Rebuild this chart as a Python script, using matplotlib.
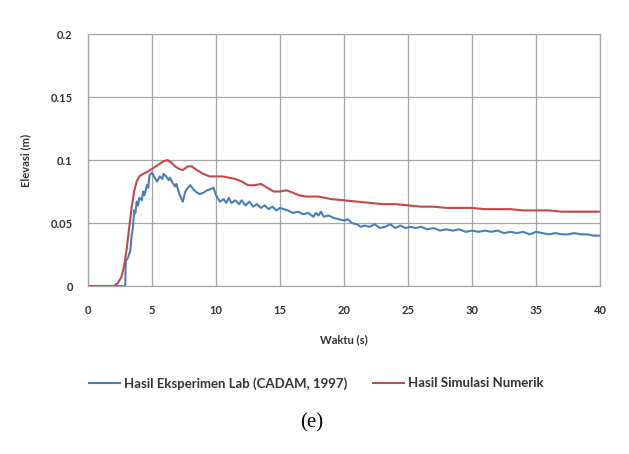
import matplotlib
matplotlib.use("Agg")
import matplotlib.pyplot as plt

# Hasil Eksperimen Lab (CADAM, 1997)
t_lab = [0, 2.9, 2.95, 3.1, 3.3, 3.4, 3.5, 3.6, 3.7, 3.8, 3.9, 4.0, 4.2, 4.3, 4.4,
         4.6, 4.7, 4.8, 5.0, 5.2, 5.4, 5.6, 5.8, 5.9, 6.1, 6.3, 6.4, 6.6, 6.8, 6.9,
         7.1, 7.3, 7.4, 7.6, 7.8, 8.0, 8.2, 8.4, 8.7, 9.0, 9.3, 9.6, 9.8, 10.0,
         10.3, 10.6, 10.8, 11.0, 11.2, 11.5, 11.8, 12.0, 12.3, 12.6, 12.9, 13.2,
         13.5, 13.8, 14.1, 14.4, 14.7, 15.0, 15.3, 15.6, 16.0, 16.4, 16.8, 17.2,
         17.6, 17.8, 18.0, 18.2, 18.4, 18.8, 19.2, 19.6, 20.0, 20.3, 20.6, 21.0,
         21.3, 21.6, 22.0, 22.4, 22.8, 23.2, 23.6, 24.0, 24.4, 24.8, 25.2, 25.6,
         26.0, 26.5, 27.0, 27.5, 28.0, 28.5, 29.0, 29.5, 30.0, 30.5, 31.0, 31.5,
         32.0, 32.5, 33.0, 33.5, 34.0, 34.5, 35.0, 35.5, 36.0, 36.5, 37.0, 37.5,
         38.0, 38.5, 39.0, 39.5, 40.0]
h_lab = [0, 0, 0.020, 0.022, 0.028, 0.040, 0.046, 0.060, 0.058, 0.067, 0.064, 0.070,
         0.068, 0.075, 0.072, 0.080, 0.078, 0.088, 0.090, 0.086, 0.083, 0.087, 0.085,
         0.089, 0.087, 0.084, 0.086, 0.082, 0.079, 0.081, 0.074, 0.069, 0.067, 0.075,
         0.078, 0.080, 0.077, 0.075, 0.073, 0.074, 0.076, 0.077, 0.078, 0.072, 0.067,
         0.069, 0.066, 0.070, 0.066, 0.068, 0.065, 0.068, 0.064, 0.067, 0.063, 0.065,
         0.062, 0.064, 0.061, 0.063, 0.060, 0.062, 0.061, 0.060, 0.058, 0.059, 0.057,
         0.058, 0.055, 0.058, 0.056, 0.059, 0.055, 0.056, 0.054, 0.053, 0.052, 0.053,
         0.050, 0.049, 0.047, 0.048, 0.047, 0.049, 0.046, 0.047, 0.049, 0.046, 0.048,
         0.046, 0.047, 0.046, 0.047, 0.045, 0.046, 0.044, 0.045, 0.044, 0.045, 0.043,
         0.044, 0.043, 0.044, 0.043, 0.044, 0.042, 0.043, 0.042, 0.043, 0.041, 0.043,
         0.042, 0.041, 0.042, 0.041, 0.041, 0.042, 0.041, 0.041, 0.040, 0.040]

# Hasil Simulasi Numerik
t_num = [0, 2.0, 2.3, 2.6, 2.8, 3.0, 3.2, 3.4, 3.6, 3.8, 4.0, 4.3, 4.7, 5.0, 5.3,
         5.6, 5.9, 6.2, 6.5, 6.8, 7.1, 7.4, 7.8, 8.1, 8.5, 9.0, 9.5, 10.0, 10.5,
         11.0, 11.5, 12.0, 12.5, 13.0, 13.5, 14.0, 14.5, 15.0, 15.5, 16.0, 16.5,
         17.0, 18.0, 18.5, 19.0, 20.0, 21.0, 22.0, 23.0, 24.0, 25.0, 26.0, 27.0,
         28.0, 29.0, 30.0, 31.0, 32.0, 33.0, 34.0, 35.0, 36.0, 37.0, 38.0, 39.0, 40.0]
h_num = [0, 0, 0.002, 0.007, 0.015, 0.028, 0.045, 0.062, 0.075, 0.083, 0.087, 0.089,
         0.091, 0.093, 0.095, 0.097, 0.099, 0.100, 0.098, 0.095, 0.093, 0.092, 0.095,
         0.095, 0.092, 0.089, 0.087, 0.087, 0.087, 0.086, 0.085, 0.083, 0.080, 0.080,
         0.081, 0.078, 0.075, 0.075, 0.076, 0.074, 0.072, 0.071, 0.071, 0.070, 0.069,
         0.068, 0.067, 0.066, 0.065, 0.065, 0.064, 0.063, 0.063, 0.062, 0.062, 0.062,
         0.061, 0.061, 0.061, 0.060, 0.060, 0.060, 0.059, 0.059, 0.059, 0.059]

x_ticks = [0, 5, 10, 15, 20, 25, 30, 35, 40]
y_ticks = [0, 0.05, 0.1, 0.15, 0.2]
y_labels = ["0", "0.05", "0.1", "0.15", "0.2"]

FONT = ["Lato", "DejaVu Sans"]
BLUE = "#4a7ebb"
RED = "#be4b48"
TXT = "#333333"

fig = plt.figure(figsize=(6.29, 4.54), dpi=100)
ax = fig.add_axes([0.140, 0.370, 0.814, 0.555])

ax.plot(t_lab, h_lab, color=BLUE, lw=1.5, label="Hasil Eksperimen Lab (CADAM, 1997)")
ax.plot(t_num, h_num, color=RED, lw=1.5, label="Hasil Simulasi Numerik")

ax.set_xlim(0, 40)
ax.set_ylim(0, 0.2)
ax.set_xticks(x_ticks)
ax.set_yticks(y_ticks)
ax.set_yticklabels(y_labels)
ax.grid(True, color="#a6a6a6", lw=0.9)
ax.set_axisbelow(True)
for s in ax.spines.values():
    s.set_color("#a6a6a6")
    s.set_linewidth(0.9)
ax.tick_params(axis="x", length=0, pad=14, labelsize=8, labelcolor=TXT)
ax.tick_params(axis="y", length=0, pad=11, labelsize=8, labelcolor=TXT)
for lab in ax.get_xticklabels() + ax.get_yticklabels():
    lab.set_family(FONT)
    lab.set_fontweight("bold")

ax.set_xlabel("Waktu (s)", family=FONT, fontweight="bold", fontsize=8,
              color=TXT, labelpad=13)
ax.set_ylabel("Elevasi (m)", family=FONT, fontweight="bold", fontsize=8,
              color=TXT, labelpad=14)

leg = fig.legend(loc="center", bbox_to_anchor=(0.503, 0.156), ncol=2, frameon=False,
                 prop={"family": FONT, "weight": "bold", "size": 9.5},
                 handlelength=2.3, handletextpad=0.3, columnspacing=2.0)
for txt in leg.get_texts():
    txt.set_color(TXT)

fig.text(0.495, 0.068, "(e)", ha="center", va="center", family="Liberation Serif",
         fontsize=15)

fig.savefig("out.png", dpi=100)
